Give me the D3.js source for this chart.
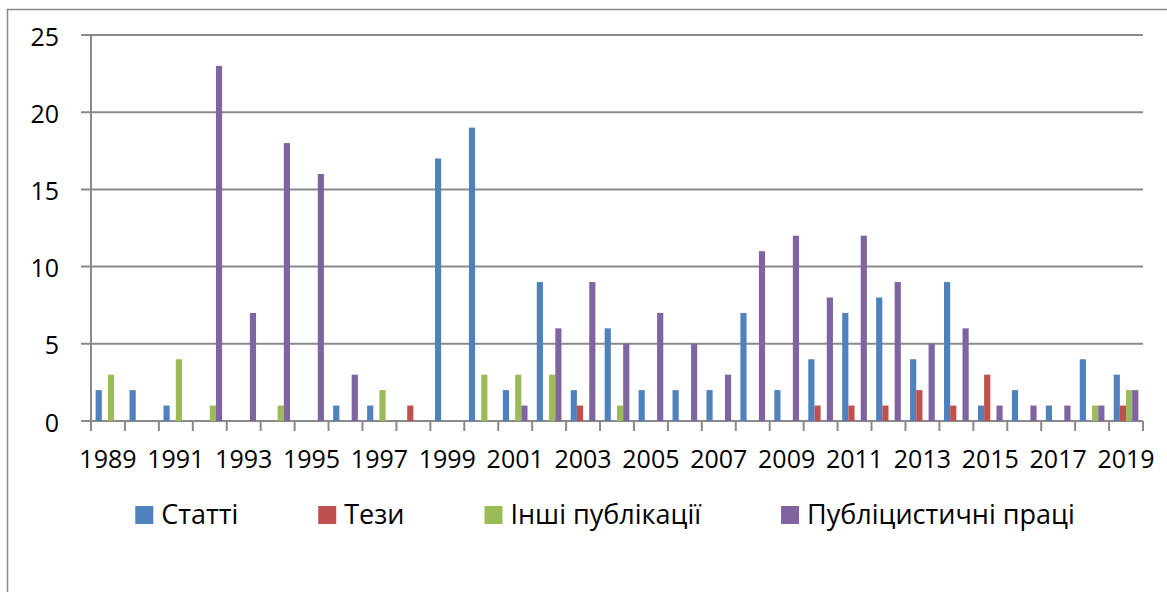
<!DOCTYPE html>
<html>
<head>
<meta charset="utf-8">
<script src="https://cdn.jsdelivr.net/npm/d3@7"></script>
<style>
  html, body { margin: 0; padding: 0; background: #fff; overflow: hidden; }
  text { font-family: 'Open Sans', sans-serif; fill: #000; }
</style>
</head>
<body>
<svg width="1167" height="592"></svg>
<script>
// categories (years)
let years = [1989, 1990, 1991, 1992, 1993, 1994, 1995, 1996, 1997, 1998,
             1999, 2000, 2001, 2002, 2003, 2004, 2005, 2006, 2007, 2008,
             2009, 2010, 2011, 2012, 2013, 2014, 2015, 2016, 2017, 2018, 2019];

// series
let seriesNames = ['Статті', 'Тези', 'Інші публікації', 'Публіцистичні праці'];
let statti   = [2, 2, 1, 0, 0, 0, 0, 1, 1, 0, 17, 19, 2, 9, 2, 6, 2, 2, 2, 7, 2, 4, 7, 8, 4, 9, 1, 2, 1, 4, 3];
let tezy     = [0, 0, 0, 0, 0, 0, 0, 0, 0, 1, 0, 0, 0, 0, 1, 0, 0, 0, 0, 0, 0, 1, 1, 1, 2, 1, 3, 0, 0, 0, 1];
let inshi    = [3, 0, 4, 1, 0, 1, 0, 0, 2, 0, 0, 3, 3, 3, 0, 1, 0, 0, 0, 0, 0, 0, 0, 0, 0, 0, 0, 0, 0, 1, 2];
let publitsy = [0, 0, 0, 23, 7, 18, 16, 3, 0, 0, 0, 0, 1, 6, 9, 5, 7, 5, 3, 11, 12, 8, 12, 9, 5, 6, 1, 1, 1, 1, 2];
let yTicks = [0, 5, 10, 15, 20, 25];

let colors = ['#4F81BD', '#C0504D', '#9BBB59', '#8064A2'];
let seriesValues = [statti, tezy, inshi, publitsy];

// layout
let plot = { left: 91, right: 1143, top: 35, bottom: 421 };
let fontSize = 25;
let legendFont = 27;

let svg = d3.select('svg');

// outer chart border (runs off the right/bottom edge like the original)
svg.append('rect')
   .attr('x', 7.5)
   .attr('y', 9.5)
   .attr('width', 1200)
   .attr('height', 620)
   .attr('fill', 'none')
   .attr('stroke', '#8a8a8a')
   .attr('stroke-width', 1.5);

let xScale = d3.scaleBand()
               .domain(years)
               .range([plot.left, plot.right])
               .padding(0);

// excel-like gap width 150%
let catW = xScale.bandwidth();
let barW = catW / (seriesNames.length + 1.5);
let sideGap = (catW - barW * seriesNames.length) / 2;

let xSub = d3.scaleBand()
             .domain(seriesNames)
             .range([sideGap, catW - sideGap])
             .padding(0);

let yScale = d3.scaleLinear()
               .domain([0, 25])
               .range([plot.bottom, plot.top]);

// gridlines
svg.append('g')
   .selectAll('line')
   .data(yTicks)
   .enter()
   .append('line')
   .attr('x1', plot.left - 10)
   .attr('x2', plot.right)
   .attr('y1', d => yScale(d))
   .attr('y2', d => yScale(d))
   .attr('stroke', '#8a8a8a')
   .attr('stroke-width', 2);

// y axis line
svg.append('line')
   .attr('x1', plot.left).attr('x2', plot.left)
   .attr('y1', plot.top).attr('y2', plot.bottom + 10)
   .attr('stroke', '#8a8a8a')
   .attr('stroke-width', 2);

// y labels
svg.append('g')
   .selectAll('text')
   .data(yTicks)
   .enter()
   .append('text')
   .attr('x', 59)
   .attr('y', d => yScale(d) + 10.5)
   .attr('text-anchor', 'end')
   .style('font-size', fontSize + 'px')
   .text(d => d);

// x tick marks at category boundaries
let boundaries = years.map(y => xScale(y)).concat([plot.right]);
svg.append('g')
   .selectAll('line')
   .data(boundaries)
   .enter()
   .append('line')
   .attr('x1', d => d)
   .attr('x2', d => d)
   .attr('y1', plot.bottom)
   .attr('y2', plot.bottom + 10)
   .attr('stroke', '#8a8a8a')
   .attr('stroke-width', 2);

// bars
seriesNames.forEach((name, si) => {
    svg.append('g')
       .selectAll('rect')
       .data(seriesValues[si].map((v, i) => ({ year: years[i], value: v })))
       .enter()
       .filter(d => d.value > 0)
       .append('rect')
       .attr('x', d => xScale(d.year) + xSub(name))
       .attr('width', xSub.bandwidth())
       .attr('y', d => yScale(d.value))
       .attr('height', d => yScale(0) - yScale(d.value))
       .attr('fill', colors[si]);
});

// x labels (every other year)
svg.append('g')
   .selectAll('text')
   .data(years.filter((d, i) => i % 2 === 0))
   .enter()
   .append('text')
   .attr('x', d => xScale(d) + catW / 2)
   .attr('y', 468)
   .attr('text-anchor', 'middle')
   .style('font-size', fontSize + 'px')
   .text(d => d);

// legend
let legend = svg.append('g').attr('id', 'legend');
let items = legend.selectAll('g')
                  .data(seriesNames)
                  .enter()
                  .append('g');
items.append('rect')
     .attr('width', 18)
     .attr('height', 18)
     .attr('y', 506)
     .attr('fill', (d, i) => colors[i]);
items.append('text')
     .attr('x', 26)
     .attr('y', 524)
     .style('font-size', legendFont + 'px')
     .text(d => d);

let pos = 0;
let offsets = [];
items.each(function(d) {
    let w = d3.select(this).select('text').node().getComputedTextLength();
    offsets.push(pos);
    pos += 26 + w + 80;
});
let total = pos - 80;
let startX = 605 - total / 2;
items.attr('transform', (d, i) => 'translate(' + (startX + offsets[i]) + ',0)');
</script>
</body>
</html>
